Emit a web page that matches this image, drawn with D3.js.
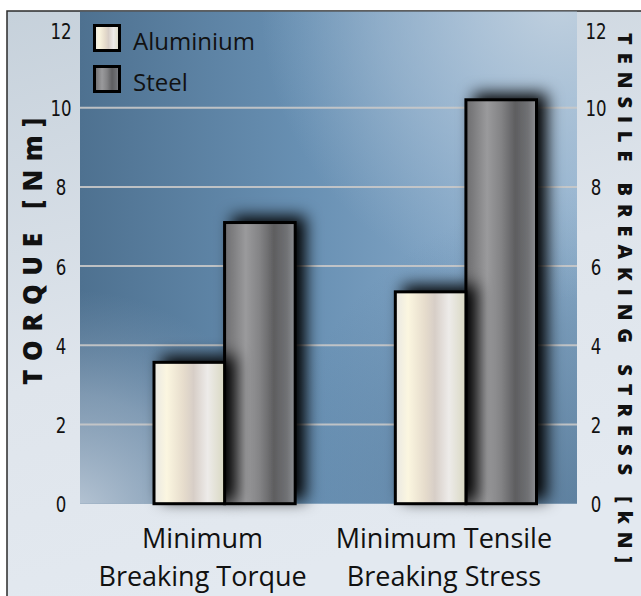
<!DOCTYPE html>
<html>
<head>
<meta charset="utf-8">
<script src="https://cdn.jsdelivr.net/npm/d3@7"></script>
<style>
  html, body { margin: 0; padding: 0; background: #ffffff; }
  svg { display: block; }
</style>
</head>
<body>
<svg id="chart" width="641" height="596"></svg>
<script>
// Chart data
const categories = ["Minimum Breaking Torque", "Minimum Tensile Breaking Stress"];
const categoryLines = [["Minimum", "Breaking Torque"], ["Minimum Tensile", "Breaking Stress"]];
const seriesNames = ["Aluminium", "Steel"];
const aluminium = [3.57, 5.35];
const steel = [7.1, 10.2];
const yTicks = [0, 2, 4, 6, 8, 10, 12];
const gridTicks = [2, 4, 6, 8, 10];
const leftTitle = "TORQUE [Nm]";
const rightTitle = "TENSILE BREAKING STRESS [kN]";

const W = 641, H = 596;
const frame = { x: 7, y: 11 };
const plot = { left: 80, right: 577, top: 11, bottom: 503.7 };

const svg = d3.select("#chart");
const defs = svg.append("defs");

// ---- gradients ----
function linGrad(id, stops, x1 = "0%", y1 = "0%", x2 = "100%", y2 = "0%") {
  const g = defs.append("linearGradient").attr("id", id)
    .attr("x1", x1).attr("y1", y1).attr("x2", x2).attr("y2", y2);
  stops.forEach(([o, c, op]) => g.append("stop").attr("offset", o)
    .attr("stop-color", c).attr("stop-opacity", op == null ? 1 : op));
  return g;
}
function radGrad(id, cx, cy, r, stops) {
  const g = defs.append("radialGradient").attr("id", id)
    .attr("gradientUnits", "userSpaceOnUse")
    .attr("cx", cx).attr("cy", cy).attr("r", r);
  stops.forEach(([o, c, op]) => g.append("stop").attr("offset", o)
    .attr("stop-color", c).attr("stop-opacity", op == null ? 1 : op));
  return g;
}

linGrad("frameBg", [["0%", "#c6d1db"], ["60%", "#dfe5ec"], ["100%", "#e3e9f0"]], "0%", "0%", "30%", "100%");
linGrad("plotBase", [["0%", "#4e7190"], ["45%", "#6890b3"], ["80%", "#85a8c8"], ["100%", "#8fb0cd"]]);
radGrad("plotBottomRight", 600, 520, 330, [["0%", "#2e5272", 0.55], ["60%", "#3d6283", 0.3], ["100%", "#4a6f90", 0]]);
radGrad("plotTopRight", 560, 0, 300, [["0%", "#c3d2e0", 0.95], ["60%", "#b0c5d9", 0.45], ["100%", "#a8c0d6", 0]]);
radGrad("plotBottomLeft", 70, 520, 230, [["0%", "#c3cfdc", 0.95], ["55%", "#a7b9cc", 0.55], ["100%", "#8aa3bd", 0]]);

linGrad("aluGrad", [
  ["0%", "#e9e8e3"], ["18%", "#fbf6e0"], ["42%", "#e6dccc"], ["56%", "#d7cec7"],
  ["76%", "#edebe9"], ["100%", "#d9d8c2"]
]);
linGrad("steelGrad", [
  ["0%", "#6c6c6e"], ["30%", "#9a9a9c"], ["50%", "#838385"], ["70%", "#5e5e60"],
  ["88%", "#707174"], ["100%", "#8c8e92"]
]);

// soft drop shadow behind the bars
const shadow = defs.append("filter").attr("id", "barShadow")
  .attr("x", "-40%").attr("y", "-30%").attr("width", "190%").attr("height", "150%");
shadow.append("feDropShadow").attr("dx", 9).attr("dy", -5)
  .attr("stdDeviation", 8).attr("flood-color", "#000").attr("flood-opacity", 1);

// ---- frame and backgrounds ----
svg.append("rect").attr("x", frame.x).attr("y", frame.y)
  .attr("width", W - frame.x + 2).attr("height", H - frame.y + 2)
  .attr("fill", "url(#frameBg)").attr("stroke", "#2b2b2b").attr("stroke-width", 1.5);

const plotW = plot.right - plot.left, plotH = plot.bottom - plot.top;
["plotBase", "plotBottomRight", "plotTopRight", "plotBottomLeft"].forEach(id =>
  svg.append("rect").attr("x", plot.left).attr("y", plot.top + 0.75)
    .attr("width", plotW).attr("height", plotH - 0.75).attr("fill", `url(#${id})`));

// ---- scales ----
const y = d3.scaleLinear().domain([0, 12]).range([plot.bottom, 28.5]);
const x0 = d3.scaleBand().domain(categories).range([154, 536.5]).paddingInner(0.415).paddingOuter(0);
const x1 = d3.scaleBand().domain(seriesNames).range([0, x0.bandwidth()]).padding(0);

// ---- gridlines ----
svg.append("g").selectAll("line").data(gridTicks).join("line")
  .attr("x1", plot.left).attr("x2", plot.right)
  .attr("y1", d => y(d)).attr("y2", d => y(d))
  .attr("stroke", "#c9c9c9").attr("stroke-width", 2).attr("opacity", 0.9);

// ---- bars (steel first so the aluminium shadow falls on it) ----
const rows = categories.map((c, i) => ({ cat: c, values: [
  { series: "Steel", value: steel[i], fill: "url(#steelGrad)" },
  { series: "Aluminium", value: aluminium[i], fill: "url(#aluGrad)" }
]}));

const groups = svg.append("g").selectAll("g").data(rows).join("g")
  .attr("transform", d => `translate(${x0(d.cat)},0)`);
groups.selectAll("rect").data(d => d.values).join("rect")
  .attr("x", d => x1(d.series))
  .attr("y", d => y(d.value))
  .attr("width", x1.bandwidth())
  .attr("height", d => y(0) - y(d.value))
  .attr("fill", d => d.fill)
  .attr("stroke", "#000").attr("stroke-width", 3)
  .attr("filter", "url(#barShadow)");

// ---- axes ----
const tickFont = "'Liberation Sans Narrow', 'DejaVu Sans Condensed', 'Arial Narrow', sans-serif";
const leftAxis = svg.append("g").attr("transform", "translate(61,0)")
  .call(d3.axisLeft(y).tickValues(yTicks).tickSize(0).tickPadding(0).tickFormat(d3.format("d")));
const rightAxis = svg.append("g").attr("transform", "translate(596,0)")
  .call(d3.axisRight(y).tickValues(yTicks).tickSize(0).tickPadding(0).tickFormat(d3.format("d")));
[leftAxis, rightAxis].forEach(a => {
  a.select(".domain").remove();
  a.selectAll("text").attr("text-anchor", "middle").attr("x", 0).attr("dy", "0.36em")
    .attr("transform", "scale(0.84,1)")
    .attr("font-family", tickFont).attr("font-size", 22).attr("fill", "#111");
});
leftAxis.selectAll("text").filter(d => d === 12).attr("dy", "0.46em");
rightAxis.selectAll("text").filter(d => d === 12).attr("dy", "0.46em");

// ---- axis titles ----
svg.append("text")
  .attr("transform", "translate(41.5,251.5) rotate(-90)")
  .attr("text-anchor", "middle")
  .attr("font-family", "'Open Sans', sans-serif").attr("font-weight", 800)
  .attr("font-size", 26).attr("fill", "#111")
  .attr("textLength", 267).attr("lengthAdjust", "spacing")
  .text(leftTitle);

svg.append("text")
  .attr("transform", "translate(618,298) rotate(90)")
  .attr("text-anchor", "middle")
  .attr("font-family", "'Open Sans', sans-serif").attr("font-weight", 800)
  .attr("font-size", 20).attr("fill", "#111")
  .attr("textLength", 530).attr("lengthAdjust", "spacing")
  .text(rightTitle);

// ---- category labels ----
const catLabels = svg.append("g").selectAll("text").data(categories).join("text")
  .attr("x", d => x0(d) + x0.bandwidth() / 2 - 22)
  .attr("y", 547.5)
  .attr("text-anchor", "middle")
  .attr("font-family", "'Open Sans', sans-serif").attr("font-size", 27).attr("fill", "#111");
catLabels.selectAll("tspan").data((d, i) => categoryLines[i]).join("tspan")
  .attr("x", function() { return d3.select(this.parentNode).attr("x"); })
  .attr("dy", (d, i) => i === 0 ? 0 : 38)
  .text(d => d);

// ---- legend ----
const legendFills = { Aluminium: "url(#aluGrad)", Steel: "url(#steelGrad)" };
const legend = svg.append("g").selectAll("g").data(seriesNames).join("g")
  .attr("transform", (d, i) => `translate(94.5,${25.5 + i * 41})`);
legend.append("rect").attr("width", 25).attr("height", 25)
  .attr("fill", d => legendFills[d]).attr("stroke", "#000").attr("stroke-width", 3);
legend.append("text").attr("x", 38.5).attr("y", 24.5)
  .attr("font-family", "'Open Sans', sans-serif").attr("font-size", 24).attr("fill", "#111")
  .text(d => d);
</script>
</body>
</html>
